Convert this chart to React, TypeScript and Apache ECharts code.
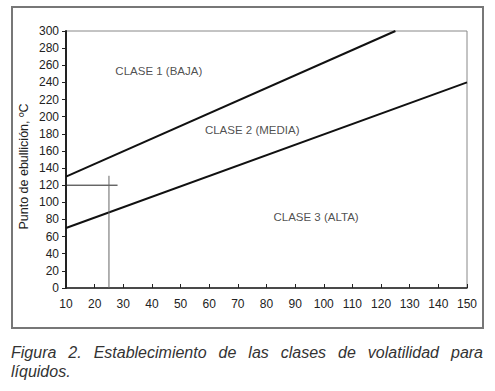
import React, { useEffect, useRef } from "react";
import * as echarts from "echarts";

const xTicks = { min: 10, max: 150, interval: 10 };
const yTicks = { min: 0, max: 300, interval: 20 };
const line1 = [[10, 130], [125, 300]];
const line2 = [[10, 70], [150, 240]];
const crossH = [[10, 120], [28, 120]];
const crossV = [[25, 0], [25, 131]];
const classLabels = [
  { name: "CLASE 1 (BAJA)", value: [42.4, 253] },
  { name: "CLASE 2 (MEDIA)", value: [75, 184.5] },
  { name: "CLASE 3 (ALTA)", value: [97.3, 83] },
];
const yAxisTitle = "Punto de ebullición, ºC";
const captionLine1 = "Figura 2. Establecimiento de las clases de volatilidad para";
const captionLine2 = "líquidos.";

const FONT = "'Liberation Sans', Arial, sans-serif";

export default function App() {
  const ref = useRef<HTMLDivElement>(null);
  useEffect(() => {
    if (!ref.current) return;
    const chart = echarts.init(ref.current, undefined, { renderer: "svg" });

    const capSize = 16;
    const canvas = document.createElement("canvas");
    const ctx = canvas.getContext("2d")!;
    ctx.font = `italic ${capSize}px 'Liberation Sans'`;
    const words = captionLine1.split(" ");
    const widths = words.map((w) => ctx.measureText(w).width);
    const left = 11, right = 483;
    const total = widths.reduce((a, b) => a + b, 0);
    const gap = (right - left - total) / (words.length - 1);
    const mid = capSize * 0.35;
    const capTexts: any[] = [];
    let cx = left;
    words.forEach((w, i) => {
      capTexts.push({
        type: "text",
        x: cx,
        y: 358.5 - mid,
        style: { text: w, font: `italic ${capSize}px ${FONT}`, fill: "#333", textAlign: "left", textVerticalAlign: "middle" },
      });
      cx += widths[i] + gap;
    });
    capTexts.push({
      type: "text",
      x: left,
      y: 377.5 - mid,
      style: { text: captionLine2, font: `italic ${capSize}px ${FONT}`, fill: "#333", textAlign: "left", textVerticalAlign: "middle" },
    });

    const lineStyle = (color: string, width: number) => ({
      type: "line",
      showSymbol: false,
      symbol: "none",
      lineStyle: { color, width },
      silent: true,
    });

    chart.setOption({
      animation: false,
      backgroundColor: "#fff",
      grid: { left: 66, top: 31, right: 28, bottom: 103, show: true, borderColor: "#888", borderWidth: 1 },
      xAxis: {
        type: "value",
        min: xTicks.min,
        max: xTicks.max,
        interval: xTicks.interval,
        axisLine: { lineStyle: { color: "#222", width: 1.5 } },
        axisTick: { inside: true, length: 4, lineStyle: { color: "#222" } },
        axisLabel: { color: "#222", fontSize: 12, fontFamily: FONT, margin: 10 },
        splitLine: { show: false },
      },
      yAxis: {
        type: "value",
        min: yTicks.min,
        max: yTicks.max,
        interval: yTicks.interval,
        axisLine: { show: true, lineStyle: { color: "#222", width: 2 } },
        axisTick: { show: true, inside: false, length: 4, lineStyle: { color: "#222" } },
        axisLabel: { color: "#222", fontSize: 12, fontFamily: FONT, margin: 7 },
        splitLine: { show: false },
      },
      graphic: [
        {
          type: "rect",
          shape: { x: 12, y: 7, width: 471, height: 321 },
          style: { fill: "none", stroke: "#777", lineWidth: 2 },
        },
        {
          type: "text",
          x: 24,
          y: 166.5,
          rotation: Math.PI / 2,
          style: { text: yAxisTitle, font: `12.5px ${FONT}`, fill: "#222", textAlign: "center", textVerticalAlign: "middle" },
        },
        ...capTexts,
      ],
      series: [
        { ...lineStyle("#111", 2), data: line1 },
        { ...lineStyle("#111", 2), data: line2 },
        { ...lineStyle("#222", 1), data: crossH },
        { ...lineStyle("#666", 1), data: crossV },
        {
          type: "scatter",
          symbolSize: 0,
          silent: true,
          data: classLabels,
          label: {
            show: true,
            position: "inside",
            formatter: "{b}",
            color: "#222",
            fontSize: 11.5,
            fontFamily: FONT,
          },
        },
      ],
    });
    return () => chart.dispose();
  }, []);
  return <div ref={ref} style={{ position: "fixed", left: 0, top: 0, width: 495, height: 391 }} />;
}
